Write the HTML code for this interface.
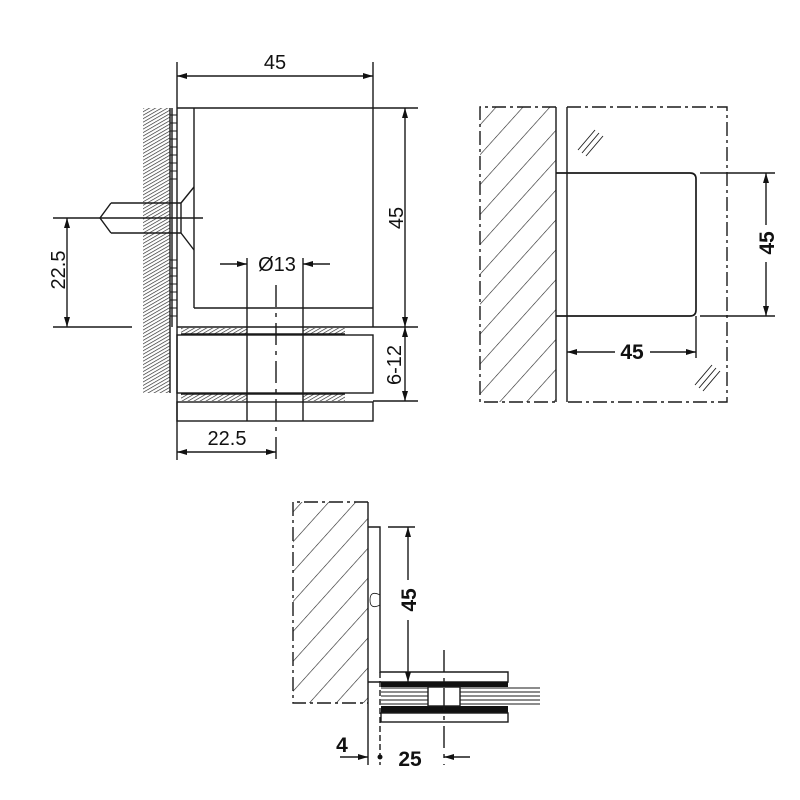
<!DOCTYPE html>
<html><head><style>html,body{margin:0;padding:0;background:#fff}svg{display:block}</style></head>
<body>
<svg width="800" height="800" viewBox="0 0 800 800" xmlns="http://www.w3.org/2000/svg" font-family="Liberation Sans, Arial, sans-serif">
<defs>
<pattern id="fine" patternUnits="userSpaceOnUse" width="3" height="3" patternTransform="rotate(60)">
<line x1="0" y1="0" x2="0" y2="3" stroke="#222" stroke-width="1.3"/></pattern>
<pattern id="wide" patternUnits="userSpaceOnUse" width="20" height="20" patternTransform="rotate(42)">
<line x1="0" y1="0" x2="0" y2="20" stroke="#222" stroke-width="1.2"/></pattern>
<marker id="a" viewBox="0 0 10 6" refX="10" refY="3" markerWidth="11" markerHeight="6" orient="auto-start-reverse" markerUnits="userSpaceOnUse">
<path d="M0,0 L10,3 L0,6 z" fill="#111"/></marker>
</defs>
<g stroke="#1a1a1a" stroke-width="1.4" fill="none">
<!-- LEFT VIEW -->
<rect x="143" y="108" width="27" height="285" fill="url(#fine)" stroke="none"/>
<line x1="170" y1="108" x2="170" y2="393"/>
<line x1="172" y1="108" x2="172" y2="327"/>
<g stroke-width="1">
<line x1="170" y1="115" x2="177" y2="115"/><line x1="170" y1="123" x2="177" y2="123"/><line x1="170" y1="131" x2="177" y2="131"/><line x1="170" y1="139" x2="177" y2="139"/><line x1="170" y1="147" x2="177" y2="147"/><line x1="170" y1="155" x2="177" y2="155"/><line x1="170" y1="163" x2="177" y2="163"/><line x1="170" y1="171" x2="177" y2="171"/><line x1="170" y1="179" x2="177" y2="179"/><line x1="170" y1="260" x2="177" y2="260"/><line x1="170" y1="268" x2="177" y2="268"/><line x1="170" y1="276" x2="177" y2="276"/><line x1="170" y1="284" x2="177" y2="284"/><line x1="170" y1="292" x2="177" y2="292"/><line x1="170" y1="300" x2="177" y2="300"/><line x1="170" y1="308" x2="177" y2="308"/><line x1="170" y1="316" x2="177" y2="316"/>
</g>
<line x1="177" y1="62" x2="177" y2="460"/>
<line x1="373" y1="62" x2="373" y2="327"/>
<line x1="177" y1="108" x2="194" y2="108"/>
<line x1="194" y1="108" x2="194" y2="308"/>
<line x1="194" y1="108" x2="418" y2="108"/>
<line x1="194" y1="308" x2="373" y2="308"/>
<line x1="177" y1="327" x2="418" y2="327"/>
<line x1="177" y1="76" x2="373" y2="76" marker-start="url(#a)" marker-end="url(#a)"/>
<line x1="405" y1="108" x2="405" y2="327" marker-start="url(#a)" marker-end="url(#a)"/>
<line x1="53" y1="218" x2="203" y2="218"/>
<path d="M111,203 L100,218 L111,233 M111,203 L181,203 L181,233 L111,233 M181,203 L194,187 M181,233 L194,250"/>
<line x1="67" y1="218" x2="67" y2="327" marker-start="url(#a)" marker-end="url(#a)"/>
<line x1="53" y1="327" x2="132" y2="327"/>
<rect x="181" y="328" width="66" height="6" fill="url(#fine)" stroke="none"/>
<rect x="303" y="328" width="42" height="6" fill="url(#fine)" stroke="none"/>
<rect x="181" y="394" width="66" height="7" fill="url(#fine)" stroke="none"/>
<rect x="303" y="394" width="42" height="7" fill="url(#fine)" stroke="none"/>
<rect x="177" y="335" width="196" height="58"/>
<rect x="177" y="402" width="196" height="19"/>
<line x1="181" y1="334" x2="345" y2="334"/><line x1="181" y1="394" x2="345" y2="394"/>
<line x1="247" y1="258" x2="247" y2="421"/>
<line x1="303" y1="258" x2="303" y2="421"/>
<line x1="220" y1="264" x2="247" y2="264" marker-end="url(#a)"/>
<line x1="330" y1="264" x2="303" y2="264" marker-end="url(#a)"/>
<line x1="276" y1="285" x2="276" y2="460" stroke-dasharray="22,6,4,6"/>
<line x1="373" y1="401" x2="418" y2="401"/>
<line x1="405" y1="327" x2="405" y2="401" marker-start="url(#a)" marker-end="url(#a)"/>
<line x1="177" y1="452" x2="276" y2="452" marker-start="url(#a)" marker-end="url(#a)"/>

<!-- TOP RIGHT VIEW -->
<rect x="480" y="107" width="76" height="295" fill="url(#wide)" stroke="none"/>
<path d="M556,107 L480,107 L480,402 L556,402" stroke-dasharray="14,4,3,4"/>
<line x1="556" y1="107" x2="556" y2="402"/>
<line x1="567" y1="107" x2="567" y2="402"/>
<path d="M567,107 L727,107 L727,402 L567,402" stroke-dasharray="14,4,3,4"/>
<path d="M556,173 L690,173 Q696,173 696,179 L696,310 Q696,316 690,316 L556,316" stroke-width="1.7"/>
<line x1="700" y1="173" x2="775" y2="173"/>
<line x1="700" y1="316" x2="775" y2="316"/>
<line x1="766" y1="173" x2="766" y2="225" marker-start="url(#a)"/>
<line x1="766" y1="262" x2="766" y2="316" marker-end="url(#a)"/>
<line x1="696" y1="316" x2="696" y2="358"/>
<line x1="567" y1="352" x2="615" y2="352" marker-start="url(#a)"/>
<line x1="650" y1="352" x2="696" y2="352" marker-end="url(#a)"/>
<g stroke-width="0.9"><line x1="578" y1="150" x2="595" y2="130"/><line x1="582" y1="153" x2="599" y2="133"/><line x1="586" y1="156" x2="603" y2="136"/>
<line x1="695" y1="385" x2="712" y2="365"/><line x1="699" y1="388" x2="716" y2="368"/><line x1="703" y1="391" x2="720" y2="371"/></g>

<!-- BOTTOM VIEW -->
<rect x="293" y="502" width="75" height="201" fill="url(#wide)" stroke="none"/>
<path d="M368,502 L293,502 L293,703 L368,703" stroke-dasharray="14,4,3,4"/>
<line x1="368" y1="502" x2="368" y2="765"/>
<path d="M368,527 L380,527 L380,672 L508,672 L508,682 L368,682"/>
<path d="M380,595 q-10,-5 -10,5 q0,10 10,5" stroke-width="0.8"/>
<rect x="381" y="682" width="127" height="5" fill="#111" stroke="none"/>
<rect x="381" y="706" width="127" height="7" fill="#111" stroke="none"/>
<g stroke-width="1"><line x1="381" y1="688" x2="540" y2="688"/><line x1="381" y1="692" x2="540" y2="692"/><line x1="381" y1="696" x2="540" y2="696"/><line x1="381" y1="700" x2="540" y2="700"/><line x1="381" y1="704" x2="540" y2="704"/></g>
<rect x="428" y="687" width="32" height="19" fill="#fff"/>
<rect x="381" y="713" width="127" height="9"/>
<line x1="380" y1="672" x2="380" y2="765" stroke-dasharray="6,3"/>
<line x1="444" y1="650" x2="444" y2="765" stroke-dasharray="22,6,4,6"/>
<line x1="388" y1="527" x2="415" y2="527"/>
<line x1="408" y1="527" x2="408" y2="580" marker-start="url(#a)"/>
<line x1="408" y1="620" x2="408" y2="682" marker-end="url(#a)"/>
<line x1="340" y1="757" x2="368" y2="757" marker-end="url(#a)"/>
<line x1="470" y1="757" x2="444" y2="757" marker-end="url(#a)"/>
</g>
<circle cx="380" cy="757" r="2.5" fill="#111"/>
<g fill="#111" font-size="20" text-anchor="middle">
<text x="275" y="69">45</text>
<text x="277" y="271">Ø13</text>
<text x="227" y="445">22.5</text>
<text transform="translate(403,218) rotate(-90)">45</text>
<text transform="translate(65,270) rotate(-90)">22.5</text>
<text transform="translate(401,365) rotate(-90)">6-12</text>
</g>
<g fill="#111" font-size="21" font-weight="bold" text-anchor="middle">
<text transform="translate(774,243) rotate(-90)">45</text>
<text x="632" y="359">45</text>
<text transform="translate(416,600) rotate(-90)">45</text>
<text x="342" y="752">4</text>
<text x="410" y="766">25</text>
</g>
</svg>
</body></html>
